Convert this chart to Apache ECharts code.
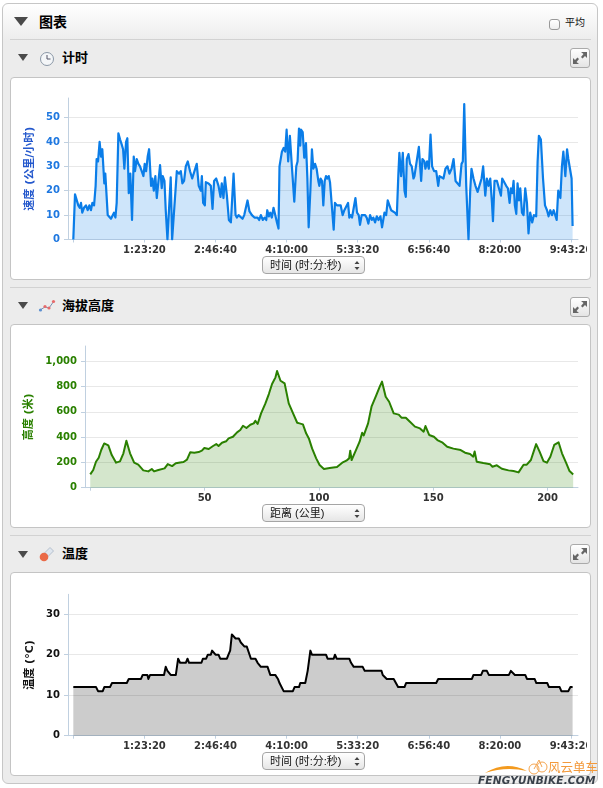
<!DOCTYPE html>
<html><head><meta charset="utf-8"><title>图表</title>
<script src="https://cdn.jsdelivr.net/npm/echarts@6/dist/echarts.min.js"></script>
<style>
html,body{margin:0;padding:0;background:#fff;width:603px;height:788px;overflow:hidden;font-family:"Liberation Sans","Noto Sans CJK SC",sans-serif}
.a{position:absolute;box-sizing:border-box}
#panel{left:2px;top:3px;width:596px;height:781px;border:1px solid #c6c6c6;border-radius:6px;background:linear-gradient(#fff 0,#ececec 38px)}
.card{left:10px;width:581px;background:#fff;border:1px solid #c4c4c4;border-radius:4px}
.hr{left:10px;width:581px;height:1px;background:#d2d2d2}
.tri{width:0;height:0;border-style:solid;border-color:#4a4a4a transparent transparent transparent}
.h{font-weight:700;font-size:13px;line-height:16px;color:#000;white-space:nowrap}
.btn{left:570px;width:20px;height:20px;border:1px solid #aaa;border-radius:3px;background:linear-gradient(#fff,#e4e4e4)}
.sel{left:262px;width:103px;height:18px;border:1px solid #a5a5a5;border-radius:4px;background:linear-gradient(#fff,#e6e6e6);font-size:11px;line-height:16px;padding-left:7px;color:#111;white-space:nowrap;z-index:3}
.sel svg{position:absolute;left:90px;top:3px}
#chart{left:0;top:0;width:587px;height:788px;z-index:2}
</style></head><body>
<div class="a" id="panel"></div>
<div class="a tri" style="left:14px;top:17px;border-width:9px 7px 0 7px"></div>
<div class="a h" style="left:39px;top:13px;font-size:14px;line-height:18px">图表</div>
<div class="a" style="left:549px;top:19px;width:11px;height:11px;border:1px solid #999;border-radius:3px;background:linear-gradient(#fff,#eee)"></div>
<div class="a" style="left:565px;top:16px;font-size:10px;line-height:13px;color:#111">平均</div>
<div class="a hr" style="top:39px"></div>
<div class="a hr" style="top:287px"></div>
<div class="a hr" style="top:535px"></div>

<div class="a tri" style="left:18px;top:54px;border-width:7px 5px 0 5px"></div>
<svg class="a" style="left:39px;top:51px" width="16" height="16"><circle cx="8" cy="8" r="6.5" fill="#f4f6f8" stroke="#8a97a6"/><path d="M8 4v4h3.5" fill="none" stroke="#556" stroke-width="1"/></svg>
<div class="a h" style="left:62px;top:50px">计时</div>
<div class="a btn" style="top:48px"><svg width="18" height="18"><g id="ex" fill="#666"><path d="M10 3h6v6l-2-2-2.500 2.500-1.500-1.500L12.500 5z"/><path d="M8 15H2V9l2 2 2.500-2.500 1.500 1.500L5.500 13z"/></g></svg></div>
<div class="a card" style="top:77px;height:203px"></div>
<div class="a sel" style="top:256px">时间 (时:分:秒)<svg width="8" height="11"><path d="M4 1l2.500 3h-5zM4 10L1.500 7h5z" fill="#444"/></svg></div>

<div class="a tri" style="left:18px;top:302px;border-width:7px 5px 0 5px"></div>
<svg class="a" style="left:38px;top:298px" width="18" height="16"><path d="M2 12L7 9l4 1 5-7" fill="none" stroke="#7d8fb0" stroke-width="1"/><circle cx="2.500" cy="12" r="1.600" fill="#5b8fd0"/><circle cx="7" cy="8.500" r="1.600" fill="#e86a6a"/><circle cx="11" cy="10" r="1.600" fill="#e86a6a"/><circle cx="15.500" cy="3.500" r="1.600" fill="#e86a6a"/></svg>
<div class="a h" style="left:62px;top:298px">海拔高度</div>
<div class="a btn" style="top:297px"><svg width="18" height="18"><use href="#ex"/></svg></div>
<div class="a card" style="top:324px;height:204px"></div>
<div class="a sel" style="top:504px">距离 (公里)<svg width="8" height="11"><path d="M4 1l2.500 3h-5zM4 10L1.500 7h5z" fill="#444"/></svg></div>

<div class="a tri" style="left:18px;top:551px;border-width:7px 5px 0 5px"></div>
<svg class="a" style="left:38px;top:546px" width="17" height="17"><path d="M12 1.500l3.500 3.500-6.500 6.500-3.500-3.500z" fill="#dfe6ee" stroke="#a8b4c4" stroke-width=".8"/><circle cx="6" cy="11" r="4.300" fill="#ea6a48"/></svg>
<div class="a h" style="left:62px;top:546px">温度</div>
<div class="a btn" style="top:544px"><svg width="18" height="18"><use href="#ex"/></svg></div>
<div class="a card" style="top:572px;height:204px"></div>
<div class="a sel" style="top:752px">时间 (时:分:秒)<svg width="8" height="11"><path d="M4 1l2.500 3h-5zM4 10L1.500 7h5z" fill="#444"/></svg></div>

<div class="a" id="chart"></div>

<svg class="a" style="left:484px;top:755px;z-index:4" width="64" height="22"><path d="M1 18Q22 5 43 16Q22 11 1 18z" fill="#f39a1e"/><g fill="none" stroke="#f3a552" stroke-width="1"><circle cx="50" cy="14" r="5"/><circle cx="58" cy="12" r="5"/><path d="M50 14l5-9 3 7"/></g></svg>
<div class="a" style="left:548px;top:761px;z-index:4;font-size:12.500px;line-height:15px;font-weight:400;color:#f39a3c;white-space:nowrap">风云单车</div>
<div class="a" style="left:478px;top:774px;z-index:4;font-size:10.500px;line-height:12px;font-weight:700;font-style:italic;letter-spacing:.2px;color:#39414a;white-space:nowrap;font-family:'DejaVu Sans'">FENGYUNBIKE.COM</div>

<script>
// Elapsed seconds, speed in km/h
const speedPoints = [[0,0],[120,18.5],[230,18],[350,14],[450,13],[540,15],[630,11],[750,13],[890,14],[1010,12],[1130,14],[1240,12],[1340,15],[1460,14],[1570,22],[1640,33],[1740,32],[1850,40],[1950,34],[2040,37],[2110,37],[2180,23],[2250,27],[2320,27],[2420,10],[2530,10.5],[2650,8.5],[2770,8.5],[2860,11],[2960,9],[3050,15],[3170,43.5],[3290,41],[3400,39],[3500,37],[3590,29],[3710,40],[3800,41.5],[3900,19],[4010,27],[4130,8],[4250,34],[4340,28],[4460,33],[4580,31],[4690,30],[4810,28],[4930,26],[5020,31],[5120,28],[5230,34],[5330,37],[5470,22],[5560,25],[5660,20],[5770,26],[5870,17],[6100,30.5],[6220,21],[6290,26],[6410,24],[6500,12],[6620,0],[6760,0],[6850,25.5],[6950,0],[7040,0],[7280,28],[7440,27],[7560,28],[7670,23],[7790,24],[7910,30],[8050,32],[8210,28],[8360,25],[8500,24.5],[8680,31],[8820,22],[8970,20],[9040,26],[9130,15],[9250,14],[9320,23.5],[9510,23],[9670,22],[9790,12.5],[9900,24],[10050,25],[10210,22],[10350,17.5],[10440,23],[10560,17],[10660,25.5],[10800,18],[10940,8],[11080,7],[11270,27],[11410,10],[11500,9],[11620,10],[11740,9.5],[11900,8.5],[12020,10],[12160,10.5],[12250,16],[12390,11.5],[12560,10],[12740,9],[12960,9],[13070,8],[13190,10],[13330,8],[13450,9],[13570,8],[13640,12],[13750,9.5],[13850,11],[13960,9],[14080,13],[14200,10],[14320,7],[14430,4.5],[14500,30],[14670,36],[14790,37.5],[14900,36],[15000,45],[15110,32],[15230,42.5],[15370,30],[15540,15.5],[15680,30],[15770,32],[15870,45.5],[15960,38.5],[16010,45],[16130,44],[16240,33.5],[16360,39.5],[16460,25],[16550,5],[16670,20],[16780,37],[16880,29],[17000,31],[17110,29],[17230,24],[17300,22],[17390,25],[17490,24],[17580,14],[17680,24],[17770,26],[17860,25],[17960,26],[18050,23.5],[18170,23],[18310,4],[18400,15],[18540,14],[18660,14],[18800,14],[18940,10],[19060,12],[19180,11.5],[19320,15],[19410,9],[19510,10],[19600,9],[19720,9],[19840,17],[19950,11],[20070,10],[20160,6],[20280,10],[20400,9.5],[20520,10],[20630,9],[20750,6.5],[20870,10],[20990,8],[21100,9],[21220,7],[21340,9.5],[21460,8],[21600,9.5],[21710,5],[21880,11],[22000,10],[22110,16],[22230,14],[22350,12],[22490,12.5],[22610,11],[22750,10],[22860,27],[22930,35.5],[23050,26],[23170,35.5],[23290,20],[23380,17.5],[23450,33],[23570,35],[23680,31],[23800,30],[23920,25],[23990,26],[24110,26],[24300,38],[24460,24],[24550,33],[24690,32],[24760,29],[24880,32],[25000,29],[25120,43],[25230,30],[25370,28],[25520,28],[25660,22],[25750,26],[25890,26],[26030,25],[26170,29],[26310,30],[26450,27],[26600,29],[26740,33],[26880,24],[27020,24],[27160,22],[27300,31],[27390,32],[27490,55.5],[27630,22],[27790,0],[27910,20],[28000,29],[28140,25],[28280,22],[28430,19.5],[28570,19],[28710,25],[28820,30],[28970,18],[29080,25],[29200,22],[29320,25],[29440,15],[29510,7.5],[29620,24],[29790,24],[29930,24],[30070,18],[30160,25],[30300,25],[30440,22],[30560,21],[30680,15],[30770,21],[30870,19],[30960,24],[31050,14],[31150,10.5],[31240,23],[31340,16],[31430,21],[31550,11],[31660,10],[31780,21],[31900,15],[32010,2.5],[32130,11],[32270,7],[32390,10],[32550,9.5],[32650,32],[32740,42.5],[32880,41],[33030,25],[33170,14],[33310,12],[33420,9.5],[33540,12],[33660,10],[33780,12],[33890,12],[33990,8],[34100,20],[34250,17],[34360,30],[34460,36],[34600,26],[34720,37],[34810,33],[34950,33],[35040,25],[35110,5.5]];

// Distance in km, elevation in metres
const elevationPoints = [[0,105],[1.3,140],[2.5,205],[3.7,237],[4.8,298],[6.1,350],[7.9,335],[9.4,258],[11.3,198],[13,208],[14.5,272],[15.8,372],[17.4,272],[19.2,198],[21,182],[23.2,137],[25.4,129],[26.9,148],[27.9,129],[29.8,140],[32.5,153],[33.9,187],[35.8,171],[37.4,193],[39.3,200],[40.8,203],[42.3,222],[43.7,280],[45.5,277],[47.4,282],[48.8,293],[49.9,314],[51.8,306],[53.7,330],[55.1,345],[56.1,330],[57.6,356],[59.4,367],[60.5,390],[62.4,403],[64.2,438],[65.6,456],[66.8,490],[68.3,472],[70,498],[71.5,509],[72.2,530],[73.2,504],[74.7,588],[76.6,667],[78.1,741],[79.5,820],[81,873],[81.7,923],[83.2,846],[85,825],[86.8,667],[88.7,588],[90.5,514],[91.5,509],[93,501],[94.4,430],[95.6,390],[97,311],[98.8,232],[100.3,179],[102.2,148],[104.7,156],[107.9,164],[110.2,198],[112,214],[113.2,232],[113.7,293],[114.3,219],[116.1,293],[117.8,364],[118.9,435],[119.6,414],[121.5,509],[123,641],[123.7,641],[125.1,733],[126.6,799],[127.6,839],[129.2,720],[130.7,680],[132.7,588],[134.9,578],[136.1,554],[138,554],[139.8,522],[142,483],[144.2,469],[145.8,443],[146.6,488],[148.2,417],[150.3,403],[151.8,377],[154.1,356],[156.1,324],[158.8,309],[162,298],[163.9,277],[166.1,266],[167.5,245],[168.1,287],[169,206],[171.9,195],[174.9,185],[175.9,166],[177.8,177],[180,150],[182.9,137],[185.1,132],[187.3,121],[189.5,182],[190.9,182],[192.7,219],[193.9,285],[195,345],[196.5,285],[198.2,211],[199.7,198],[201.2,245],[202.9,338],[204.8,359],[206.3,272],[208.2,193],[209.6,132],[211.2,105]];

// Elapsed seconds, temperature in degrees C
const temperaturePoints = [[0,12],[1600,12],[1740,11],[2070,11],[2180,12],[2580,12],[2720,13],[3760,13],[3900,14],[4760,14],[4880,15],[5210,15],[5280,14],[5400,15],[6380,15],[6500,17],[6620,16],[6740,16],[6850,15],[7210,15],[7370,19],[7510,18],[7910,18],[8030,19],[8140,18],[9010,18],[9110,19],[9340,19],[9460,20],[9670,20],[9760,21],[9880,21],[10000,20],[10210,20],[10330,19],[10800,19],[10910,20],[11030,21],[11150,25],[11290,25],[11410,24],[11640,24],[11780,23],[11920,23],[12040,22],[12200,22],[12490,19],[12810,19],[12960,18],[13190,17],[13660,17],[13850,15],[14200,15],[14390,14],[14500,13],[14790,11],[15440,11],[15560,12],[15870,12],[15960,13],[16310,13],[16480,16],[16670,21],[16780,20],[17770,20],[17880,19],[18310,19],[18400,20],[18520,19],[19410,19],[19530,18],[19720,17],[20350,17],[20490,16],[21670,16],[21760,15],[22040,14],[22530,14],[22840,12],[23290,12],[23400,13],[25520,13],[25660,14],[28030,14],[28140,15],[28680,15],[28800,16],[29080,16],[29220,15],[30630,15],[30770,16],[30910,16],[31050,15],[31780,15],[31900,14],[32440,14],[32560,13],[33330,13],[33450,12],[34200,12],[34320,11],[34810,11],[34950,12],[35110,12]];

const timeTicks = [0,5000,10000,15000,20000,25000,30000,35000];
const timeTickLabels = ['','1:23:20','2:46:40','4:10:00','5:33:20','6:56:40','8:20:00','9:43:20'];
const distanceTicks = [0,50,100,150,200];
const speedTicks = [0,10,20,30,40,50];
const elevationTicks = [0,200,400,600,800,1000];
const temperatureTicks = [0,10,20,30];
const speedTitle = '速度 (公里/小时)', elevationTitle = '高度 (米)', temperatureTitle = '温度 (°C)';

const FONT = '"DejaVu Sans","Noto Sans CJK SC",sans-serif';
const AXIS = '#c0d0e0', GRID = '#e8e8e8';

function xAxis(i, min, max, ticks, fmt) {
  return {type:'value', gridIndex:i, min, max, splitLine:{show:false},
    axisLine:{show:true, onZero:false, lineStyle:{color:AXIS}},
    axisTick:{show:true, length:3, customValues:ticks, lineStyle:{color:AXIS}},
    axisLabel:{customValues:ticks.filter(v=>v!==0), margin:6, color:'#333', fontFamily:FONT, fontWeight:'bold', fontSize:10, formatter:fmt}};
}
function yAxis(i, max, ticks, title, gap, labelColor, nameColor, fmt) {
  return {type:'value', gridIndex:i, min:0, max, name:title, nameLocation:'middle', nameRotate:90, nameGap:gap,
    nameTextStyle:{color:nameColor, fontFamily:FONT, fontSize:11, fontWeight:'bold'},
    axisLine:{show:true, onZero:false, lineStyle:{color:AXIS}},
    axisTick:{show:true, length:4, customValues:ticks, lineStyle:{color:AXIS}},
    splitLine:{show:true, lineStyle:{color:GRID}},
    axisLabel:{customValues:ticks, margin:8, padding:[6,0,0,0], color:labelColor, fontFamily:FONT, fontWeight:'bold', fontSize:10, formatter:fmt}};
}
function area(i, data, color, fill, width) {
  return {type:'line', xAxisIndex:i, yAxisIndex:i, data, showSymbol:false, smooth:false, silent:true, animation:false,
    lineStyle:{color, width, join:'round'}, areaStyle:{color:fill, opacity:1}, z:3};
}
const timeFmt = v => timeTickLabels[timeTicks.indexOf(v)] || '';
const thousands = v => String(v).replace(/\B(?=(\d{3})+$)/g, ',');

const chart = echarts.init(document.getElementById('chart'), null, {renderer:'canvas'});
chart.setOption({
  animation:false,
  grid:[
    {left:68, top:98, width:510, height:141.5, outerBoundsMode:'none'},
    {left:85, top:346, width:493, height:141.7, outerBoundsMode:'none'},
    {left:68, top:594.3, width:510, height:141.4, outerBoundsMode:'none'}
  ],
  xAxis:[
    xAxis(0,-373,35490,timeTicks,timeFmt),
    xAxis(1,-2.3,213.3,distanceTicks,v=>String(v)),
    xAxis(2,-373,35490,timeTicks,timeFmt)
  ],
  yAxis:[
    yAxis(0,58,speedTicks,speedTitle,29,'#1f78e0','#2458cc',v=>String(v)),
    yAxis(1,1121,elevationTicks,elevationTitle,46,'#2a8000','#2a8000',thousands),
    yAxis(2,34.9,temperatureTicks,temperatureTitle,29,'#111','#111',v=>String(v))
  ],
  series:[
    area(0,speedPoints,'#0a7de8','rgba(10,125,232,0.2)',2.2),
    area(1,elevationPoints,'#2a8000','rgba(42,128,0,0.2)',2),
    area(2,temperaturePoints,'#000','rgba(0,0,0,0.2)',2)
  ]
});
</script>
</body></html>
